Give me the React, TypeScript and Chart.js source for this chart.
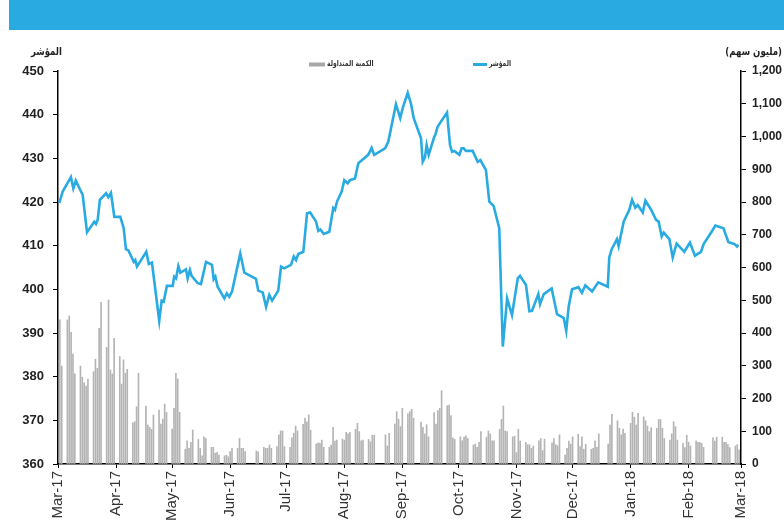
import React, { useEffect, useRef } from "react";
import { Chart, registerables } from "chart.js";

Chart.register(...registerables);

// x values are days counted from 1 March 2017
const monthDays = [0, 31, 61, 92, 122, 153, 184, 214, 245, 275, 306, 337, 365];
const monthLabels = [
  "Mar-17", "Apr-17", "May-17", "Jun-17", "Jul-17", "Aug-17", "Sep-17",
  "Oct-17", "Nov-17", "Dec-17", "Jan-18", "Feb-18", "Mar-18",
];

const indexDays = [
  0.7, 2.5, 6.9, 8.2, 9.5, 13.2, 15.5, 19.4, 20.3, 21.2, 22.4, 25.7, 26.9, 28.3, 30.1, 33.3, 35.1, 36.3, 37.6,
  40.5, 41.3, 42.2, 47.2, 48.5, 50.2, 54.1, 55.4, 56.5, 58.2, 61.3, 62.1, 63.1, 64.3, 65.4, 68.4, 69.3, 70.5,
  71.4, 74.7, 76.4, 79.1, 82.3, 83.2, 84.1, 85.3, 88.9, 90.2, 91.5, 93.0, 97.4, 99.6, 105.8, 107.0, 109.4,
  111.2, 112.9, 114.4, 117.7, 119.2, 120.9, 124.5, 126.0, 127.2, 128.4, 131.1, 133.1, 134.8, 137.9, 139.1,
  140.2, 142.0, 145.0, 147.1, 148.0, 149.1, 151.6, 153.0, 154.8, 156.0, 158.7, 160.5, 161.9, 165.8, 167.6,
  169.0, 174.8, 176.5, 180.6, 182.9, 184.2, 186.9, 188.7, 190.1, 194.0, 194.9, 196.1, 197.0, 198.1, 201.1,
  201.6, 202.9, 207.9, 209.5, 210.6, 211.8, 214.5, 215.7, 216.8, 218.0, 221.6, 224.3, 225.7, 228.7, 230.5,
  232.8, 235.8, 237.7, 240.0, 242.6, 245.7, 246.9, 250.1, 251.9, 253.3, 256.7, 257.6, 259.6, 263.8, 266.7,
  270.3, 271.6, 272.9, 274.7, 278.1, 280.0, 281.8, 285.4, 288.7, 293.8, 294.6, 295.9, 298.7, 299.6, 302.3,
  305.3, 306.8, 308.5, 309.8, 312.5, 313.9, 316.9, 319.6, 321.0, 322.6, 323.7, 326.7, 328.5, 330.6, 334.7,
  337.7, 340.4, 343.6, 345.1, 349.3, 351.3, 355.6, 358.3, 361.4, 362.9, 363.6,
];
const indexValues = [
  419.8, 422.4, 425.7, 423.1, 424.9, 421.6, 413.1, 415.5, 415.0, 415.9, 420.5, 422.0, 421.1, 422.1, 416.6, 416.6, 414.0, 409.2, 408.9,
  406.3, 406.7, 405.2, 408.6, 405.8, 406.1, 392.8, 397.4, 397.2, 400.8, 400.8, 402.9, 402.5, 405.3, 403.8, 404.6, 402.5, 404.4,
  403.1, 401.4, 401.2, 406.3, 405.6, 402.3, 402.9, 400.6, 397.9, 399.1, 398.3, 399.5, 408.2, 403.8, 402.4, 399.7, 399.3,
  396.0, 398.7, 397.4, 399.7, 405.2, 404.8, 405.6, 407.5, 406.7, 408.1, 408.6, 417.4, 417.6, 415.5, 413.4,
  413.7, 412.7, 413.2, 418.6, 418.2, 420.1, 422.4, 425.0, 424.3, 425.0, 425.4, 428.9, 429.4, 430.8, 432.4,
  430.8, 432.3, 433.8, 442.4, 439.2, 441.5, 445.0, 442.4, 439.2, 434.6, 429.2, 430.2, 433.0, 430.8, 435.0,
  435.3, 437.3, 440.5, 433.0, 431.5, 431.7, 430.8, 432.3, 432.3, 431.7, 431.7, 429.2, 429.6, 427.3, 420.1,
  419.1, 414.0, 386.9, 397.9, 394.1, 402.5, 403.1, 401.0, 395.0, 395.1, 398.9, 396.6, 398.9, 400.2, 394.3,
  393.4, 390.5, 396.0, 400.0, 400.5, 399.2, 400.9, 399.5, 401.6, 400.6, 407.3, 409.2, 411.5, 409.9, 415.5,
  418.2, 420.5, 418.7, 419.3, 417.6, 420.3, 418.3, 415.9, 415.5, 412.1, 413.0, 411.5, 407.3, 410.5, 408.6,
  410.7, 407.7, 408.6, 410.4, 413.2, 414.6, 414.0, 410.8, 410.4, 409.8, 410.2,
];

const volumeDays = [
  1, 2,
  5, 6, 7, 8, 9,
  12, 13, 14, 15, 16,
  19, 20, 21, 22, 23,
  26, 27, 28, 29, 30,
  33, 34, 35, 36, 37,
  40, 41, 42, 43,
  47, 48, 49, 50, 51,
  54, 55, 56, 57, 58,
  61, 62, 63, 64, 65,
  68, 69, 70, 71, 72,
  75, 76, 77, 78, 79,
  82, 83, 84, 85, 86,
  89, 90, 91, 92, 93,
  96, 97, 98, 99, 100,
  106, 107,
  110, 111, 112, 113, 114,
  117, 118, 119, 120, 121,
  124, 125, 126, 127, 128,
  131, 132, 133, 134, 135,
  138, 139, 140, 141, 142,
  145, 146, 147, 148, 149,
  152, 153, 154, 155, 156,
  159, 160, 161, 162, 163,
  166, 167, 168, 169,
  175, 176, 177,
  180, 181, 182, 183, 184,
  187, 188, 189, 190,
  194, 195, 196, 197, 198,
  201, 202, 203, 204, 205,
  208, 209, 210, 211, 212,
  215, 216, 217, 218, 219,
  222, 223, 224, 225, 226,
  229, 230, 231, 232, 233,
  236, 237, 238, 239, 240,
  243, 244, 245, 246, 247,
  250, 251, 252, 253, 254,
  257, 258, 259, 260,
  264, 265, 266, 267, 268,
  271, 272, 273, 274, 275,
  278, 279, 280, 281, 282,
  285, 286, 287, 288, 289,
  294, 295, 296,
  299, 300, 301, 302, 303,
  306, 307, 308, 309, 310,
  313, 314, 315, 316, 317,
  320, 321, 322, 323, 324,
  327, 328, 329, 330, 331,
  334, 335, 336, 337, 338,
  341, 342, 343, 344, 345,
  350, 351, 352,
  355, 356, 357, 358, 359,
  362, 363, 364,
];
const volumes = [
  440, 299,
  440, 452, 402, 336, 275,
  299, 265, 248, 238, 259,
  282, 320, 292, 414, 494,
  356, 501, 287, 275, 384,
  328, 244, 318, 277, 289,
  126, 129, 175, 277,
  177, 119, 112, 106, 150,
  165, 122, 137, 183, 157,
  107, 170, 277, 260, 158,
  45, 71, 48, 66, 104,
  75, 48, 25, 83, 78,
  51, 51, 33, 36, 27,
  25, 27, 22, 38, 48,
  48, 78, 48, 48, 38,
  40, 37,
  51, 48, 48, 58, 48,
  53, 89, 101, 101, 53,
  51, 80, 94, 116, 101,
  121, 140, 129, 150, 103,
  61, 65, 63, 73, 51,
  51, 58, 112, 70, 73,
  76, 73, 97, 92, 97,
  106, 124, 99, 71, 73,
  75, 68, 88, 88,
  89, 55, 94,
  122, 160, 137, 114, 170,
  153, 160, 167, 140,
  128, 112, 92, 120, 83,
  157, 122, 163, 170, 224,
  178, 180, 148, 80, 75,
  83, 71, 82, 86, 78,
  58, 61, 51, 66, 99,
  82, 101, 92, 71, 71,
  106, 136, 177, 101, 99,
  83, 85, 35, 106, 70,
  66, 59, 59, 48, 55,
  71, 78, 41, 76,
  65, 78, 59, 56, 89,
  27, 48, 70, 61, 83,
  91, 53, 83, 45, 60,
  45, 48, 71, 51, 92,
  61, 119, 152,
  132, 109, 89, 107, 94,
  124, 158, 143, 119, 155,
  144, 132, 116, 99, 111,
  109, 136, 136, 109, 78,
  73, 92, 129, 114, 73,
  63, 50, 88, 66, 55,
  71, 66, 66, 63, 51,
  80, 70, 82,
  82, 66, 66, 59, 50,
  55, 59, 43,
];

const indexLabel = "المؤشر";
const volumeLabel = "الكمية المتداولة";
const leftTitle = "المؤشر";
const rightTitle = "(مليون سهم)";

const BLUE = "#29abe2";
const GREY = "#b4b4b4";
const SANS = "'Liberation Sans', Arial, sans-serif";
const ARABIC = "'DejaVu Sans', sans-serif";

function condensedText(ctx: any, text: string, x: number, y: number, align: string, squeeze: number) {
  ctx.save();
  ctx.translate(x, y);
  ctx.scale(squeeze, 1);
  ctx.textAlign = align;
  ctx.fillText(text, 0, 0);
  ctx.restore();
}

const decor = {
  id: "decor",
  beforeDraw(chart: any) {
    const ctx = chart.ctx;
    ctx.save();
    ctx.fillStyle = BLUE;
    ctx.fillRect(9, 0, chart.width - 9, 30);
    ctx.restore();
  },
  afterDraw(chart: any) {
    const ctx = chart.ctx;
    ctx.save();
    ctx.fillStyle = "#222";
    ctx.textBaseline = "middle";
    ctx.font = "bold 11px " + ARABIC;
    condensedText(ctx, leftTitle, 62, 52, "right", 0.78);
    condensedText(ctx, rightTitle, 782, 52, "right", 0.78);
    // legend
    ctx.font = "bold 8px " + ARABIC;
    ctx.fillStyle = "#a8a8a8";
    ctx.fillRect(309, 62.5, 16, 4);
    ctx.fillStyle = "#333";
    condensedText(ctx, volumeLabel, 327, 64, "left", 0.76);
    ctx.strokeStyle = BLUE;
    ctx.lineWidth = 3;
    ctx.beginPath();
    ctx.moveTo(473, 64.5);
    ctx.lineTo(487, 64.5);
    ctx.stroke();
    condensedText(ctx, indexLabel, 489, 64, "left", 0.76);
    ctx.restore();
  },
};

export default function App() {
  const ref = useRef<HTMLCanvasElement | null>(null);
  useEffect(() => {
    document.body.style.margin = "0";
    const canvas = ref.current;
    if (!canvas) return;
    const axisGrid = { drawOnChartArea: false, drawTicks: true, tickLength: 5, tickColor: "#000", offset: false };
    const axisBorder = { display: true, color: "#000", width: 1.5 };
    const chart = new Chart(canvas, {
      type: "bar",
      data: {
        datasets: [
          {
            type: "line",
            label: indexLabel,
            data: indexDays.map((d, i) => ({ x: d, y: indexValues[i] })),
            yAxisID: "y",
            borderColor: BLUE,
            backgroundColor: BLUE,
            borderWidth: 2.6,
            pointRadius: 0,
            tension: 0,
            fill: false,
            order: 1,
          } as any,
          {
            type: "bar",
            label: volumeLabel,
            data: volumeDays.map((d, i) => ({ x: d, y: volumes[i] })),
            yAxisID: "y1",
            backgroundColor: GREY,
            barThickness: 1,
            order: 2,
          } as any,
        ],
      },
      options: {
        responsive: false,
        animation: false,
        layout: { padding: { top: 71, left: 0, right: 0, bottom: 0 } },
        plugins: { legend: { display: false }, tooltip: { enabled: false } },
        scales: {
          x: {
            type: "linear",
            min: 0,
            max: 365,
            offset: false,
            position: "bottom",
            afterBuildTicks: (s: any) => {
              s.ticks = monthDays.map((v) => ({ value: v }));
            },
            afterFit: (s: any) => {
              s.height = 67;
            },
            grid: { ...axisGrid, tickLength: 4 },
            border: axisBorder,
            ticks: {
              autoSkip: false,
              minRotation: 90,
              maxRotation: 90,
              padding: 3,
              color: "#333",
              font: { family: SANS, size: 15 },
              callback: (_v: any, i: number) => monthLabels[i],
            },
          },
          y: {
            position: "left",
            min: 360,
            max: 450,
            afterFit: (s: any) => {
              s.width = 58;
            },
            grid: axisGrid,
            border: axisBorder,
            ticks: {
              stepSize: 10,
              padding: 9,
              color: "#222",
              font: { family: SANS, size: 13, weight: "bold" },
            },
          },
          y1: {
            position: "right",
            min: 0,
            max: 1200,
            afterFit: (s: any) => {
              s.width = 43;
            },
            grid: axisGrid,
            border: axisBorder,
            ticks: {
              stepSize: 100,
              padding: 6,
              color: "#222",
              font: { family: SANS, size: 12, weight: "bold" },
              callback: (v: any) => Number(v).toLocaleString("en-US"),
            },
          },
        },
      } as any,
      plugins: [decor],
    });
    return () => chart.destroy();
  }, []);
  return (
    <div style={{ width: 784, height: 531, position: "relative", background: "#fff" }}>
      <canvas ref={ref} width={784} height={531} style={{ display: "block" }} />
    </div>
  );
}
